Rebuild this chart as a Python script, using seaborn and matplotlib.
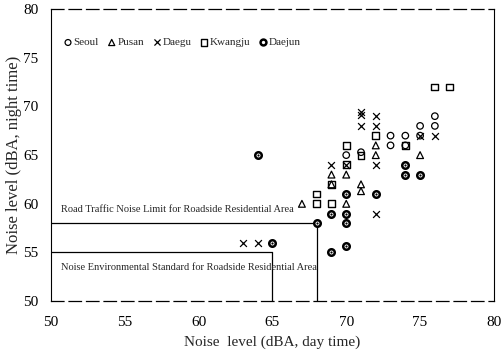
import matplotlib
matplotlib.use("Agg")
import matplotlib.pyplot as plt
import seaborn as sns
import pandas as pd

# ---- data ----
seoul_x = [70, 71, 73, 73, 74, 74, 75, 75, 76, 76]
seoul_y = [65, 65.3, 67, 66, 67, 66, 68, 67, 69, 68]

pusan_x = [67, 69, 69, 70, 70, 71, 71, 72, 72, 75]
pusan_y = [60, 63, 62, 63, 60, 62, 61.3, 66, 65, 65]

daegu_x = [63, 64, 69, 70, 71, 71, 71, 72, 72, 72, 72, 75, 76]
daegu_y = [56, 56, 64, 64, 69.4, 69.1, 68, 69, 68, 64, 59, 67, 67]

kwangju_x = [68, 68, 69, 69, 70, 70, 71, 72, 74, 76, 77]
kwangju_y = [61, 60, 62, 60, 66, 64, 65, 67, 66, 72, 72]

daejun_x = [64, 65, 68, 69, 69, 70, 70, 70, 70, 72, 74, 74, 75]
daejun_y = [65, 56, 58, 59, 55, 61, 59, 58, 55.7, 61, 64, 63, 63]

cities = ["Seoul", "Pusan", "Daegu", "Kwangju", "Daejun"]
road_limit = 58
road_limit_day = 68
env_std = 55
env_std_day = 65
road_text = "Road Traffic Noise Limit for Roadside Residential Area"
env_text = "Noise Environmental Standard for Roadside Residential Area"
xticks = [50, 55, 60, 65, 70, 75, 80]
yticks = [50, 55, 60, 65, 70, 75, 80]

frames = []
for name, xs, ys in [("Seoul", seoul_x, seoul_y), ("Pusan", pusan_x, pusan_y),
                     ("Daegu", daegu_x, daegu_y), ("Kwangju", kwangju_x, kwangju_y),
                     ("Daejun", daejun_x, daejun_y)]:
    frames.append(pd.DataFrame({"day": xs, "night": ys, "city": name}))
df = pd.concat(frames, ignore_index=True)

sns.set_style("white")
plt.rcParams["font.family"] = ["Liberation Serif", "DejaVu Serif"]

fig = plt.figure(figsize=(5.03, 3.62), dpi=100)
ax = fig.add_axes([0.101, 0.168, 0.881, 0.807])

styles = {
    "Seoul": dict(marker="o", s=22, facecolor="none", edgecolor="black", linewidth=0.9),
    "Pusan": dict(marker="^", s=24, facecolor="none", edgecolor="black", linewidth=0.9),
    "Daegu": dict(marker="x", s=24, color="black", linewidth=0.9),
    "Kwangju": dict(marker="s", s=24, facecolor="none", edgecolor="black", linewidth=1.0),
    "Daejun": dict(marker="o", s=22, facecolor="white", edgecolor="black", linewidth=1.8),
}
for c in cities:
    sub = df[df.city == c]
    sns.scatterplot(data=sub, x="day", y="night", ax=ax, label=c, zorder=3, **styles[c])
sub = df[df.city == "Daejun"]
sns.scatterplot(data=sub, x="day", y="night", ax=ax, marker="o", s=2.5,
                color="black", linewidth=0, zorder=4, legend=False)

# reference lines
ax.plot([50, road_limit_day], [road_limit, road_limit], color="black", lw=0.9, zorder=2)
ax.plot([road_limit_day, road_limit_day], [50, road_limit], color="black", lw=0.9, zorder=2)
ax.plot([50, env_std_day], [env_std, env_std], color="black", lw=0.9, zorder=2)
ax.plot([env_std_day, env_std_day], [50, env_std], color="black", lw=0.9, zorder=2)
ax.text(50.7, 59.4, road_text, fontsize=7.5, va="center", ha="left")
ax.text(50.7, 53.5, env_text, fontsize=7.5, va="center", ha="left")

ax.set_xlim(50, 80)
ax.set_ylim(50, 80)
ax.set_xticks(xticks)
ax.set_yticks(yticks)
ax.tick_params(direction="in", length=3, width=0.8, labelsize=11, colors="black")
ax.tick_params(axis="x", pad=11)
ax.tick_params(axis="y", pad=9)
ax.set_xlabel("Noise  level (dBA, day time)", fontsize=11, labelpad=4)
ax.set_ylabel("Noise level (dBA, night time)", fontsize=12, labelpad=1)

for side in ["left", "right"]:
    ax.spines[side].set_color("black")
    ax.spines[side].set_linewidth(0.8)
for side in ["top", "bottom"]:
    ax.spines[side].set_color("black")
    ax.spines[side].set_linewidth(0.9)
    ax.spines[side].set_linestyle((0, (10, 4)))

leg = ax.legend(loc="upper left", bbox_to_anchor=(0.015, 0.925), ncol=5, frameon=False,
                fontsize=8, handletextpad=0.15, columnspacing=0.8, borderaxespad=0.2,
                handlelength=0.7, markerscale=0.9)

fig.savefig("out.png", dpi=100)
